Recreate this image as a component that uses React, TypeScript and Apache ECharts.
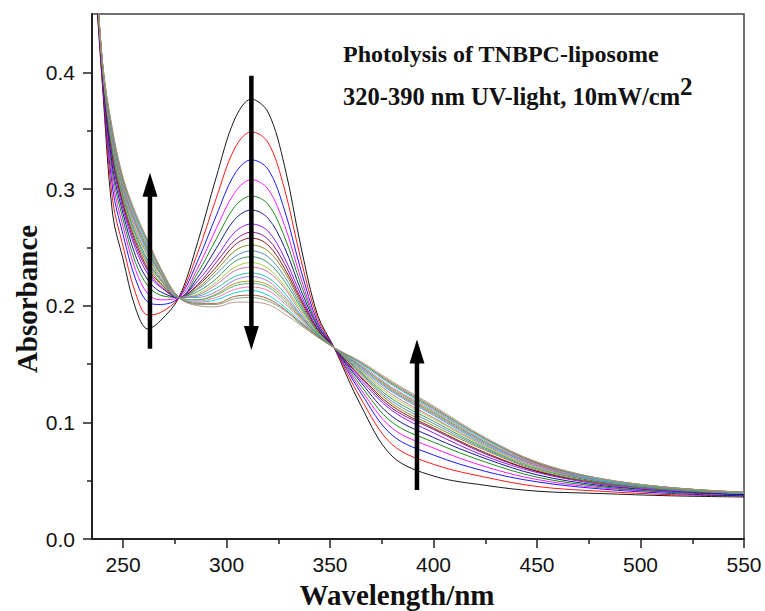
import React, { useEffect, useRef } from "react";
import * as echarts from "echarts";

// Wavelength grid (nm) at which every scan is read
const WAVELENGTHS = [235, 240, 245, 250, 256, 262, 268, 277, 286, 295, 304, 312, 320, 328, 336, 344, 352, 365, 380, 400, 425, 450, 480, 515, 550];

// Absorbance scans (first = before irradiation, last = longest irradiation)
const S0 = [0.520, 0.390, 0.278, 0.240, 0.198, 0.180, 0.187, 0.207, 0.254, 0.310, 0.360, 0.377, 0.366, 0.320, 0.250, 0.192, 0.164, 0.114, 0.071, 0.054, 0.046, 0.041, 0.039, 0.037, 0.036];
const S1 = [0.524, 0.393, 0.290, 0.251, 0.211, 0.192, 0.194, 0.207, 0.245, 0.292, 0.335, 0.349, 0.340, 0.300, 0.239, 0.189, 0.164, 0.120, 0.081, 0.064, 0.053, 0.045, 0.041, 0.038, 0.037];
const S2 = [0.528, 0.396, 0.300, 0.261, 0.223, 0.203, 0.201, 0.207, 0.238, 0.277, 0.313, 0.325, 0.317, 0.282, 0.230, 0.186, 0.164, 0.125, 0.089, 0.072, 0.058, 0.049, 0.043, 0.039, 0.037];
const S3 = [0.530, 0.398, 0.307, 0.268, 0.231, 0.210, 0.205, 0.207, 0.232, 0.266, 0.297, 0.308, 0.300, 0.269, 0.223, 0.184, 0.164, 0.128, 0.095, 0.078, 0.062, 0.051, 0.044, 0.040, 0.038];
const S4 = [0.532, 0.400, 0.313, 0.274, 0.237, 0.217, 0.209, 0.207, 0.228, 0.257, 0.285, 0.294, 0.287, 0.259, 0.218, 0.183, 0.164, 0.131, 0.100, 0.083, 0.066, 0.053, 0.045, 0.040, 0.038];
const S5 = [0.534, 0.401, 0.318, 0.279, 0.243, 0.222, 0.212, 0.207, 0.224, 0.249, 0.274, 0.282, 0.275, 0.250, 0.213, 0.182, 0.164, 0.134, 0.105, 0.087, 0.069, 0.055, 0.046, 0.041, 0.038];
const S6 = [0.536, 0.402, 0.323, 0.283, 0.249, 0.227, 0.216, 0.207, 0.221, 0.241, 0.263, 0.270, 0.264, 0.241, 0.209, 0.180, 0.164, 0.136, 0.110, 0.091, 0.071, 0.057, 0.047, 0.041, 0.039];
const S7 = [0.537, 0.403, 0.326, 0.286, 0.252, 0.230, 0.217, 0.207, 0.218, 0.237, 0.256, 0.263, 0.257, 0.236, 0.206, 0.180, 0.164, 0.138, 0.112, 0.094, 0.073, 0.058, 0.048, 0.042, 0.039];
const S8 = [0.537, 0.404, 0.328, 0.288, 0.255, 0.232, 0.219, 0.207, 0.217, 0.233, 0.252, 0.258, 0.252, 0.232, 0.204, 0.179, 0.164, 0.139, 0.114, 0.095, 0.074, 0.058, 0.048, 0.042, 0.039];
const S9 = [0.538, 0.404, 0.330, 0.290, 0.257, 0.235, 0.220, 0.207, 0.215, 0.230, 0.247, 0.252, 0.247, 0.229, 0.202, 0.178, 0.164, 0.141, 0.116, 0.097, 0.076, 0.059, 0.048, 0.042, 0.039];
const S10 = [0.539, 0.405, 0.332, 0.293, 0.260, 0.237, 0.222, 0.207, 0.214, 0.227, 0.242, 0.247, 0.242, 0.225, 0.200, 0.178, 0.164, 0.142, 0.118, 0.099, 0.077, 0.060, 0.049, 0.042, 0.039];
const S11 = [0.540, 0.406, 0.334, 0.295, 0.262, 0.239, 0.223, 0.207, 0.212, 0.223, 0.238, 0.242, 0.237, 0.221, 0.198, 0.177, 0.164, 0.143, 0.120, 0.101, 0.078, 0.061, 0.049, 0.043, 0.039];
const S12 = [0.540, 0.406, 0.336, 0.297, 0.264, 0.242, 0.224, 0.207, 0.210, 0.220, 0.233, 0.237, 0.232, 0.217, 0.196, 0.177, 0.164, 0.144, 0.122, 0.103, 0.079, 0.061, 0.050, 0.043, 0.039];
const S13 = [0.541, 0.407, 0.338, 0.298, 0.266, 0.243, 0.225, 0.207, 0.209, 0.218, 0.230, 0.233, 0.229, 0.215, 0.194, 0.176, 0.164, 0.145, 0.124, 0.104, 0.080, 0.062, 0.050, 0.043, 0.039];
const S14 = [0.542, 0.407, 0.340, 0.300, 0.269, 0.245, 0.227, 0.207, 0.208, 0.215, 0.225, 0.228, 0.224, 0.211, 0.192, 0.176, 0.164, 0.146, 0.126, 0.106, 0.081, 0.063, 0.050, 0.043, 0.039];
const S15 = [0.542, 0.408, 0.341, 0.302, 0.270, 0.247, 0.228, 0.207, 0.207, 0.212, 0.222, 0.225, 0.221, 0.208, 0.191, 0.175, 0.164, 0.147, 0.127, 0.107, 0.082, 0.063, 0.050, 0.043, 0.040];
const S16 = [0.543, 0.408, 0.343, 0.303, 0.272, 0.248, 0.228, 0.207, 0.205, 0.210, 0.219, 0.221, 0.218, 0.206, 0.190, 0.175, 0.164, 0.148, 0.128, 0.108, 0.083, 0.064, 0.051, 0.043, 0.040];
const S17 = [0.543, 0.408, 0.344, 0.304, 0.273, 0.249, 0.229, 0.207, 0.205, 0.209, 0.217, 0.219, 0.216, 0.204, 0.189, 0.175, 0.164, 0.148, 0.129, 0.109, 0.083, 0.064, 0.051, 0.043, 0.040];
const S18 = [0.543, 0.409, 0.345, 0.305, 0.274, 0.251, 0.230, 0.207, 0.204, 0.207, 0.214, 0.216, 0.213, 0.202, 0.188, 0.174, 0.164, 0.149, 0.130, 0.110, 0.084, 0.064, 0.051, 0.044, 0.040];
const S19 = [0.544, 0.409, 0.346, 0.307, 0.276, 0.252, 0.231, 0.207, 0.203, 0.205, 0.211, 0.213, 0.209, 0.199, 0.186, 0.174, 0.164, 0.150, 0.132, 0.111, 0.085, 0.065, 0.051, 0.044, 0.040];
const S20 = [0.544, 0.409, 0.348, 0.308, 0.278, 0.254, 0.232, 0.207, 0.202, 0.202, 0.208, 0.209, 0.206, 0.197, 0.185, 0.174, 0.164, 0.151, 0.133, 0.112, 0.086, 0.065, 0.052, 0.044, 0.040];
const S21 = [0.545, 0.410, 0.349, 0.309, 0.278, 0.255, 0.232, 0.207, 0.201, 0.201, 0.206, 0.207, 0.204, 0.196, 0.184, 0.173, 0.164, 0.151, 0.134, 0.113, 0.086, 0.066, 0.052, 0.044, 0.040];
const S22 = [0.545, 0.410, 0.350, 0.310, 0.280, 0.256, 0.233, 0.207, 0.200, 0.199, 0.203, 0.203, 0.201, 0.193, 0.183, 0.173, 0.164, 0.152, 0.135, 0.114, 0.087, 0.066, 0.052, 0.044, 0.040];

const SCANS = [S0, S1, S2, S3, S4, S5, S6, S7, S8, S9, S10, S11, S12, S13, S14, S15, S16, S17, S18, S19, S20, S21, S22];

const SCAN_COLORS = [
  "#000000", "#ff0000", "#0000ff", "#ff00ff", "#008000", "#000080", "#8000ff", "#800080",
  "#800000", "#808000", "#4682b4", "#2e8b57", "#9acd32", "#cc6699", "#20b2aa", "#9370db",
  "#b8860b", "#3cb371", "#ff69b4", "#00ced1", "#a0522d", "#7b9c6b", "#b09080",
];

const X_MAJOR = [250, 300, 350, 400, 450, 500, 550];
const X_MINOR = [275, 325, 375, 425, 475, 525];
const Y_MAJOR = [0, 0.1, 0.2, 0.3, 0.4];
const Y_MINOR = [0.05, 0.15, 0.25, 0.35];

// Arrows: wavelength, tail absorbance, tip absorbance
const ARROW_X = [263, 312, 392];
const ARROW_FROM = [0.163, 0.397, 0.042];
const ARROW_TIP = [0.314, 0.162, 0.171];

const TITLE_LINE1 = "Photolysis of TNBPC-liposome";
const TITLE_LINE2 = "320-390 nm UV-light, 10mW/cm";
const X_NAME = "Wavelength/nm";
const Y_NAME = "Absorbance";

export default function App() {
  const ref = useRef<HTMLDivElement>(null);

  useEffect(() => {
    if (!ref.current) return;
    const chart = echarts.init(ref.current, undefined, { renderer: "svg" });

    const axisColor = "#222";
    const labelFont = { fontFamily: "Liberation Sans", fontSize: 21, color: "#111" };

    const series: any[] = SCANS.map((scan, i) => ({
      type: "line",
      name: "scan" + i,
      data: WAVELENGTHS.map((w, j) => [w, scan[j]]),
      showSymbol: false,
      symbol: "none",
      smooth: 0.35,
      silent: true,
      clip: true,
      z: 2,
      lineStyle: { color: SCAN_COLORS[i], width: 1, opacity: 0.9 },
      emphasis: { disabled: true },
    }));

    series.push({
      type: "custom",
      name: "arrows",
      silent: true,
      clip: false,
      z: 10,
      data: ARROW_X.map((x, k) => [x, ARROW_FROM[k], ARROW_TIP[k]]),
      encode: { x: 0, y: [1, 2] },
      renderItem: (params: any, api: any) => {
        const x = api.value(0);
        const p0 = api.coord([x, api.value(1)]);
        const p1 = api.coord([x, api.value(2)]);
        const dir = p1[1] < p0[1] ? -1 : 1;
        const headLen = 24;
        const headW = 15;
        const baseY = p1[1] - dir * headLen;
        return {
          type: "group",
          children: [
            {
              type: "line",
              shape: { x1: p0[0], y1: p0[1], x2: p1[0], y2: baseY + dir * 2 },
              style: { stroke: "#000", lineWidth: 4.5 },
            },
            {
              type: "polygon",
              shape: {
                points: [
                  [p1[0], p1[1]],
                  [p1[0] - headW / 2, baseY],
                  [p1[0] + headW / 2, baseY],
                ],
              },
              style: { fill: "#000" },
            },
          ],
        };
      },
    });

    chart.setOption({
      animation: false,
      backgroundColor: "#fff",
      grid: {
        left: 92,
        top: 14,
        right: 21,
        bottom: 72,
        show: true,
        borderColor: "#444",
        borderWidth: 1.5,
        containLabel: false,
        outerBoundsMode: "none",
      },
      xAxis: [
        {
          type: "value",
          min: 235,
          max: 550,
          position: "bottom",
          axisLine: { show: true, lineStyle: { color: axisColor, width: 2 } },
          axisTick: { show: true, customValues: X_MAJOR, length: 9, lineStyle: { color: axisColor, width: 1.5 } },
          axisLabel: { show: true, customValues: X_MAJOR, margin: 15, ...labelFont },
          splitLine: { show: false },
        },
        {
          type: "value",
          min: 235,
          max: 550,
          position: "bottom",
          axisLine: { show: false },
          axisTick: { show: true, customValues: X_MINOR, length: 5, lineStyle: { color: axisColor, width: 1.5 } },
          axisLabel: { show: false },
          splitLine: { show: false },
        },
      ],
      yAxis: [
        {
          type: "value",
          min: 0,
          max: 0.45,
          position: "left",
          axisLine: { show: true, lineStyle: { color: axisColor, width: 2 } },
          axisTick: { show: true, customValues: Y_MAJOR, length: 9, lineStyle: { color: axisColor, width: 1.5 } },
          axisLabel: {
            show: true,
            customValues: Y_MAJOR,
            margin: 17,
            formatter: (v: number) => v.toFixed(1),
            ...labelFont,
          },
          splitLine: { show: false },
        },
        {
          type: "value",
          min: 0,
          max: 0.45,
          position: "left",
          axisLine: { show: false },
          axisTick: { show: true, customValues: Y_MINOR, length: 5, lineStyle: { color: axisColor, width: 1.5 } },
          axisLabel: { show: false },
          splitLine: { show: false },
        },
      ],
      graphic: [
        {
          type: "text",
          x: 27,
          y: 299,
          rotation: Math.PI / 2,
          silent: true,
          style: {
            text: Y_NAME,
            font: 'bold 29px "Liberation Serif"',
            fill: "#111",
            align: "center",
            verticalAlign: "middle",
          },
        },
        {
          type: "text",
          x: 397,
          y: 595,
          silent: true,
          style: {
            text: X_NAME,
            font: 'bold 29px "Liberation Serif"',
            fill: "#111",
            align: "center",
            verticalAlign: "middle",
          },
        },
        {
          type: "text",
          x: 343,
          y: 54,
          silent: true,
          style: {
            text: TITLE_LINE1,
            font: 'bold 24px "Liberation Serif"',
            fill: "#111",
            align: "left",
            verticalAlign: "middle",
          },
        },
        {
          type: "text",
          x: 343,
          y: 96,
          silent: true,
          style: {
            text: TITLE_LINE2,
            font: 'bold 24.5px "Liberation Serif"',
            fill: "#111",
            align: "left",
            verticalAlign: "middle",
          },
        },
        {
          type: "text",
          x: 680,
          y: 86,
          silent: true,
          style: {
            text: "2",
            font: 'bold 25px "Liberation Serif"',
            fill: "#111",
            align: "left",
            verticalAlign: "middle",
          },
        },
      ],
      series,
    });

    return () => chart.dispose();
  }, []);

  return (
    <div
      ref={ref}
      style={{ position: "absolute", left: 0, top: 0, width: 765, height: 611, background: "#fff" }}
    />
  );
}
